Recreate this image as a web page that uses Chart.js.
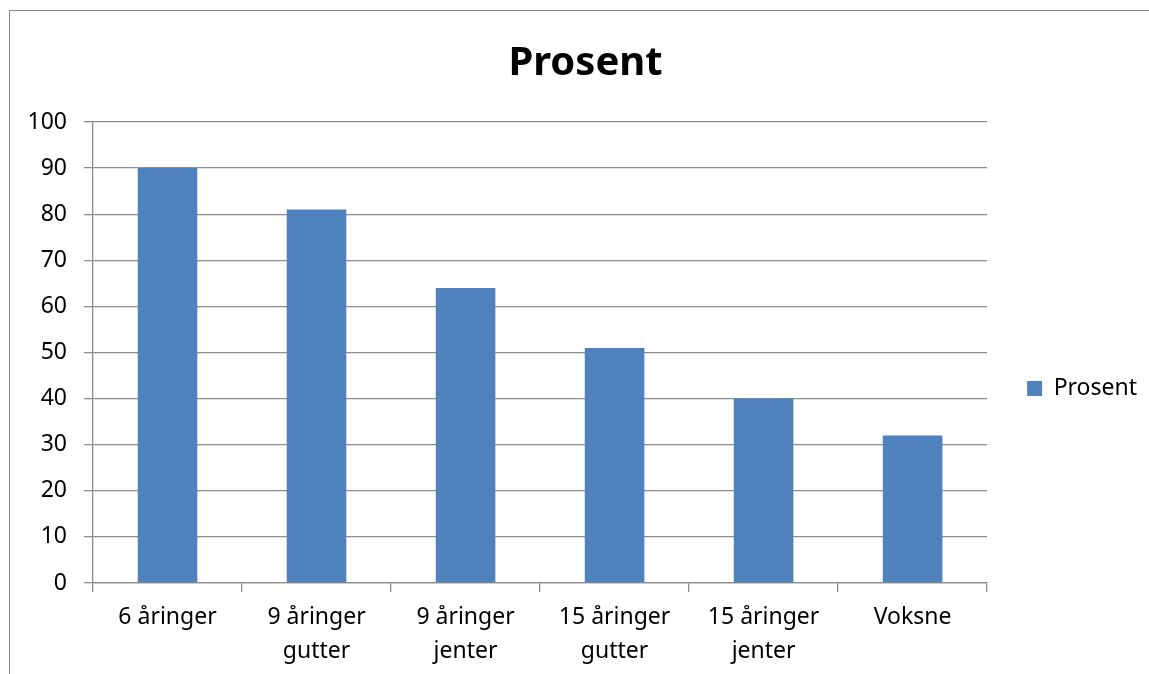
<!DOCTYPE html>
<html>
<head>
<meta charset="utf-8">
<script src="https://cdn.jsdelivr.net/npm/chart.js@4"></script>
<style>
  html, body { margin: 0; padding: 0; background: #fff; overflow: hidden; }
  #wrap { position: relative; width: 1149px; height: 674px; }
  #frame { position: absolute; left: 9px; top: 10px; width: 2000px; height: 2000px; border: 1px solid #8a8a8a; box-sizing: border-box; }
  canvas { position: absolute; left: 0; top: 0; }
</style>
</head>
<body>
<div id="wrap">
  <div id="frame"></div>
  <canvas id="c" width="1149" height="674"></canvas>
</div>
<script>
const categories = [
  ['6 åringer'],
  ['9 åringer', 'gutter'],
  ['9 åringer', 'jenter'],
  ['15 åringer', 'gutter'],
  ['15 åringer', 'jenter'],
  ['Voksne']
];
const prosentValues = [90, 81, 64, 51, 40, 32];
const seriesName = 'Prosent';
const chartTitle = 'Prosent';
const yMin = 0, yMax = 100, yStep = 10;

const FONT = '"Noto Sans", "Open Sans", sans-serif';

const legendShift = {
  id: 'legendShift',
  afterLayout(chart) {
    const L = chart.legend;
    if (!L) return;
    L.top += 36;
    L.bottom += 36;
  }
};

new Chart(document.getElementById('c'), {
  type: 'bar',
  data: {
    labels: categories,
    datasets: [{
      label: seriesName,
      data: prosentValues,
      backgroundColor: '#4F81BD',
      borderWidth: 0,
      categoryPercentage: 1.0,
      barPercentage: 0.4
    }]
  },
  options: {
    responsive: false,
    animation: false,
    devicePixelRatio: 1,
    layout: { padding: { top: 0, left: 24, right: 2, bottom: 0 } },
    plugins: {
      title: {
        display: true,
        text: chartTitle,
        color: '#000',
        font: { family: FONT, size: 40, weight: 'bold', lineHeight: 1.2 },
        padding: { top: 40, bottom: 34 }
      },
      legend: {
        display: true,
        position: 'right',
        fullSize: false,
        labels: {
          boxWidth: 15,
          boxHeight: 15,
          padding: 40,
          color: '#000',
          font: { family: FONT, size: 23 }
        }
      },
      tooltip: { enabled: false }
    },
    scales: {
      x: {
        afterFit(scale) { scale.height = 674 - 583; },
        grid: {
          offset: true,
          drawOnChartArea: false,
          drawTicks: true,
          tickLength: 9,
          color: '#8c8c8c',
          lineWidth: 1.3
        },
        border: { display: true, color: '#8c8c8c', width: 1.3 },
        ticks: {
          color: '#000',
          padding: 8,
          maxRotation: 0,
          autoSkip: false,
          font: { family: FONT, size: 23, lineHeight: 1.48 }
        }
      },
      y: {
        min: yMin,
        max: yMax,
        afterFit(scale) { scale.width = 93 - 24; },
        grid: {
          drawTicks: true,
          tickLength: 9,
          color: '#8c8c8c',
          lineWidth: 1.3
        },
        border: { display: true, color: '#8c8c8c', width: 1.3 },
        ticks: {
          stepSize: yStep,
          color: '#000',
          padding: 17,
          font: { family: FONT, size: 23 }
        }
      }
    }
  },
  plugins: [legendShift]
});
</script>
</body>
</html>
